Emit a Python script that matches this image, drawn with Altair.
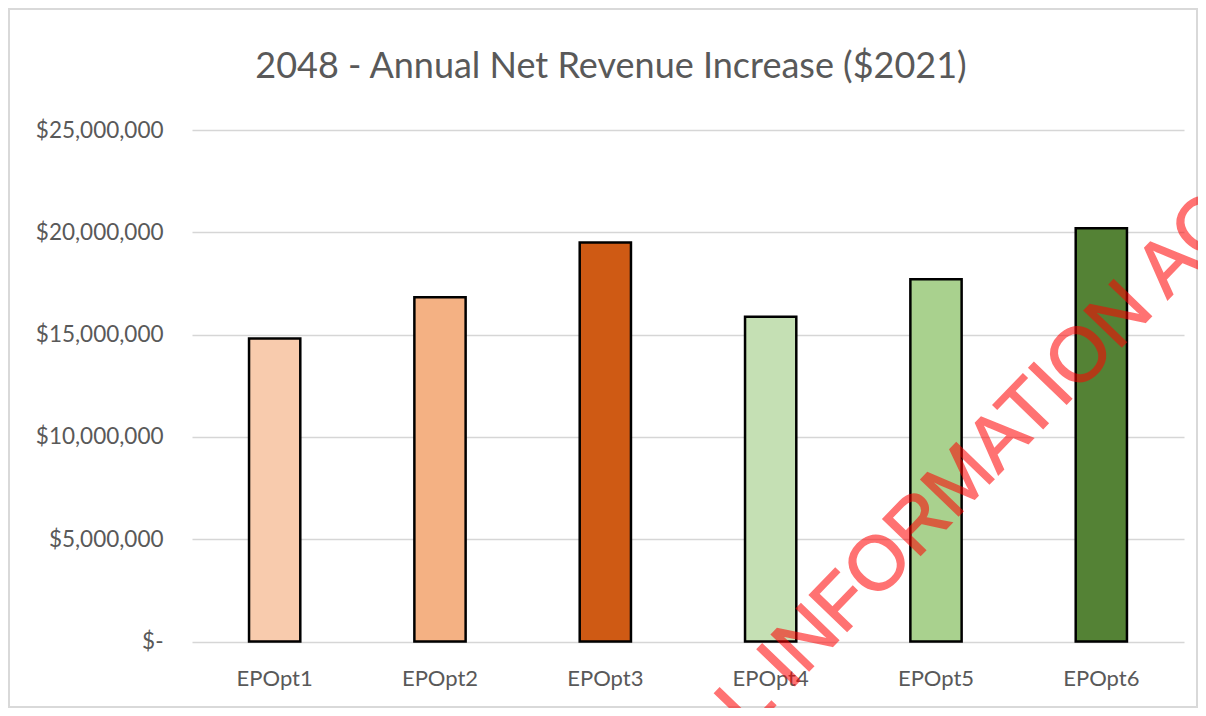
import altair as alt
import pandas as pd

categories = ["EPOpt1", "EPOpt2", "EPOpt3", "EPOpt4", "EPOpt5", "EPOpt6"]
values = [14810000, 16830000, 19500000, 15870000, 17710000, 20200000]
colors = ["#F8CBAD", "#F4B183", "#CF5A14", "#C5E0B4", "#A9D18E", "#548235"]
y_ticks = [0, 5000000, 10000000, 15000000, 20000000, 25000000]
title_text = "2048 - Annual Net Revenue Increase ($2021)"
watermark_text = "L INFORMATION AC"

df = pd.DataFrame({"option": categories, "revenue": values})

W, H = 992, 511.5
PAD = {"left": 184, "top": 122, "right": 14, "bottom": 66.5}

bars = alt.Chart(df).mark_bar(stroke="black", strokeWidth=2.5).encode(
    x=alt.X(
        "option:N", sort=categories,
        scale=alt.Scale(paddingInner=0.69, paddingOuter=0.345),
        axis=alt.Axis(title=None, labelAngle=0, ticks=False, domain=False, grid=False,
                      labelPadding=27, labelFontSize=22, labelColor="#595959",
                      labelFont="Lato"),
    ),
    y=alt.Y(
        "revenue:Q", scale=alt.Scale(domain=[0, 25000000], nice=False),
        axis=alt.Axis(title=None, values=y_ticks,
                      labelExpr="datum.value == 0 ? '$-' : '$' + format(datum.value, ',')",
                      ticks=False, domain=False, gridColor="#d6d6d6", gridWidth=1.6,
                      labelPadding=29, labelFontSize=22.5, labelColor="#595959",
                      labelFont="Lato"),
    ),
    color=alt.Color("option:N", scale=alt.Scale(domain=categories, range=colors), legend=None),
)

border = alt.Chart(pd.DataFrame({"k": [0]})).mark_rect(
    fill="transparent", stroke="#d9d9d9", strokeWidth=2
).encode(
    x=alt.value(-PAD["left"] + 1), x2=alt.value(W + PAD["right"] - 1),
    y=alt.value(-PAD["top"] + 1), y2=alt.value(H + PAD["bottom"] - 1),
)

title = alt.Chart(pd.DataFrame({"t": [title_text]})).mark_text(
    align="center", baseline="alphabetic", font="Lato", fontSize=36,
    color="#595959",
).encode(x=alt.value(419), y=alt.value(-52), text="t:N")

wm = alt.Chart(pd.DataFrame({"t": [watermark_text]})).mark_text(
    angle=314, align="left", baseline="alphabetic", font="Liberation Sans",
    fontSize=76, color="#ff0000", stroke="#ff0000", strokeWidth=1.5, opacity=0.55,
).encode(x=alt.value(556), y=alt.value(604), text="t:N")

chart = alt.layer(border, title, bars, wm).properties(
    width=W, height=H,
    autosize=alt.AutoSizeParams(type="none"),
    padding=PAD,
    background="white",
).configure_view(strokeWidth=0)

chart.save("out.html", embed_options={"renderer": "svg", "actions": False})
